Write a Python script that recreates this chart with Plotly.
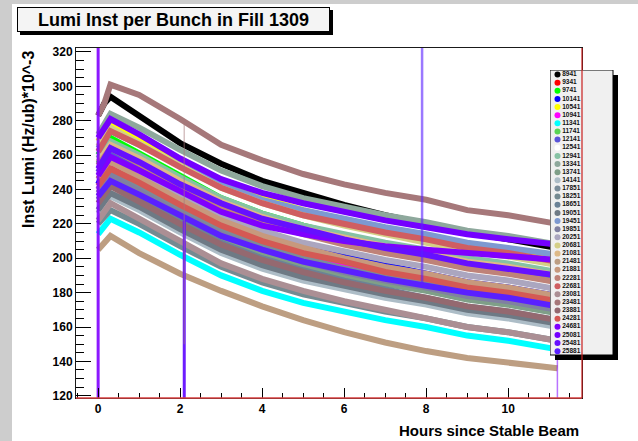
import plotly.graph_objects as go

# ---------------- data ----------------
hours = [0.0, 0.15, 0.3, 1, 2, 3, 4, 5, 6, 7, 8, 9, 10, 11.2]

bunches = ["8941", "9341", "9741", "10141", "10541", "10941", "11341", "11741",
           "12141", "12541", "12941", "13341", "13741", "14141", "17851", "18251",
           "18651", "19051", "19451", "19851", "20251", "20681", "21081", "21481",
           "21881", "22281", "22681", "23081", "23481", "23881", "24281", "24681",
           "25081", "25481", "25881"]

colors = ["#000000", "#ff0000", "#00ff00", "#0000ff", "#ffff00", "#ff00ff", "#00ffff", "#59d454",
          "#5954d9", "#ffffff", "#86c2a4", "#8ea89c", "#7f9f88", "#adbdc7", "#7a8c99", "#758a91",
          "#6b8296", "#6e7a85", "#7d99d1", "#8080a1", "#aba6bf", "#d4cf87", "#deba87", "#bd9e82",
          "#c7997d", "#bf8278", "#cf5e61", "#ab8f94", "#a6787a", "#946970", "#d45954", "#8000ff",
          "#7400ff", "#6610ff", "#5a20ff"]

lumi_8941 = [283, 290, 294, 283, 267, 255, 245, 238, 231, 225, 220, 215, 211, 206]
lumi_9341 = [246, 251, 255, 246, 233, 220, 211, 204, 198, 193, 188, 183, 180, 175]
lumi_9741 = [260, 265, 270, 261, 248, 235, 226, 219, 213, 208, 203, 198, 195, 190]
lumi_10141 = [243, 251, 258, 249, 236, 223, 214, 207, 201, 196, 191, 186, 183, 178]
lumi_10541 = [268, 274, 279, 270, 257, 244, 235, 228, 222, 217, 212, 207, 204, 199]
lumi_10941 = [240, 246, 252, 243, 230, 217, 208, 201, 195, 190, 185, 180, 177, 172]
lumi_11341 = [214, 219, 223, 215, 202, 190, 181, 174, 169, 164, 160, 155, 152, 147]
lumi_11741 = [255, 260, 265, 256, 243, 231, 222, 215, 209, 204, 200, 195, 192, 187]
lumi_12141 = [250, 256, 262, 254, 242, 231, 222, 216, 211, 206, 202, 197, 194, 190]
lumi_12541 = [232, 236, 240, 231, 218, 205, 196, 189, 183, 178, 173, 168, 165, 160]
lumi_12941 = [258, 263, 268, 260, 247, 235, 226, 219, 214, 209, 205, 200, 197, 192]
lumi_13341 = [272, 278, 284, 276, 263, 251, 242, 235, 230, 225, 221, 216, 213, 208]
lumi_13741 = [236, 241, 246, 237, 224, 212, 203, 196, 190, 185, 181, 176, 173, 168]
lumi_14141 = [226, 231, 236, 228, 215, 203, 194, 187, 182, 177, 173, 168, 165, 160]
lumi_17851 = [240, 245, 250, 241, 228, 216, 207, 200, 194, 189, 185, 180, 177, 172]
lumi_18251 = [220, 224, 228, 220, 207, 195, 186, 179, 174, 169, 165, 160, 157, 152]
lumi_18651 = [234, 239, 244, 235, 222, 209, 200, 193, 187, 182, 177, 172, 169, 164]
lumi_19051 = [228, 233, 238, 230, 217, 205, 196, 189, 184, 179, 175, 170, 167, 162]
lumi_19451 = [264, 269, 274, 266, 254, 243, 234, 228, 223, 218, 214, 209, 206, 202]
lumi_19851 = [238, 243, 248, 239, 226, 214, 205, 198, 192, 187, 183, 178, 175, 170]
lumi_20251 = [248, 253, 258, 250, 237, 225, 216, 209, 204, 199, 195, 190, 187, 182]
lumi_20681 = [265, 270, 276, 267, 254, 241, 232, 225, 219, 214, 209, 204, 201, 196]
lumi_21081 = [256, 261, 266, 258, 245, 233, 224, 217, 212, 207, 203, 198, 195, 190]
lumi_21481 = [205, 209, 213, 203, 191, 181, 172, 164, 157, 151, 146, 142, 139, 136]
lumi_21881 = [246, 251, 256, 247, 234, 222, 213, 206, 200, 195, 191, 186, 183, 178]
lumi_22281 = [254, 259, 264, 255, 242, 230, 221, 214, 208, 203, 199, 194, 191, 186]
lumi_22681 = [262, 268, 274, 266, 253, 241, 232, 225, 220, 215, 211, 206, 203, 198]
lumi_23081 = [222, 227, 232, 223, 210, 197, 188, 181, 175, 170, 165, 160, 157, 152]
lumi_23481 = [283, 290, 301, 295, 281, 266, 257, 249, 243, 238, 234, 228, 225, 220]
lumi_23881 = [232, 237, 242, 233, 220, 208, 199, 192, 186, 181, 177, 172, 169, 164]
lumi_24281 = [242, 247, 252, 244, 231, 219, 210, 203, 198, 192, 188, 183, 180, 175]
lumi_24681 = [248, 254, 259, 251, 239, 227, 219, 214, 210, 207, 205, 203, 201, 199]
lumi_25081 = [270, 276, 281, 272, 258, 246, 238, 232, 227, 222, 218, 214, 211, 208]
lumi_25481 = [252, 258, 264, 256, 243, 232, 223, 217, 211, 206, 202, 197, 194, 190]
lumi_25881 = [236, 241, 245, 237, 225, 213, 205, 198, 193, 188, 184, 180, 177, 172]

# readings that jump off-scale (vertical streaks)
spike_series = ["24681", "25481", "23481", "25881", "24681"]
spike_hours = [0.0, 2.1, 2.1, 7.9, 11.2]
spike_low = [100, 100, 150, 184, 100]
spike_high = [340, 222, 281, 340, 158]

title_text = "Lumi Inst per Bunch in Fill 1309"
x_title = "Hours since Stable Beam"
y_title = "Inst Lumi (Hz/ub)*10^-3"

series_values = [lumi_8941, lumi_9341, lumi_9741, lumi_10141, lumi_10541, lumi_10941,
                 lumi_11341, lumi_11741, lumi_12141, lumi_12541, lumi_12941, lumi_13341,
                 lumi_13741, lumi_14141, lumi_17851, lumi_18251, lumi_18651, lumi_19051,
                 lumi_19451, lumi_19851, lumi_20251, lumi_20681, lumi_21081, lumi_21481,
                 lumi_21881, lumi_22281, lumi_22681, lumi_23081, lumi_23481, lumi_23881,
                 lumi_24281, lumi_24681, lumi_25081, lumi_25481, lumi_25881]

# ---------------- layout geometry ----------------
W, H = 638, 441
ML, MR, MT, MB = 76, 20, 48, 43
PW = W - ML - MR
PH = H - MT - MB


def px(xpix):
    return (xpix - ML) / PW


def py(ypix):
    return (H - MB - ypix) / PH


xdom_end = px(582)
FONT = "Liberation Sans, Arial, Helvetica, sans-serif"
color_of = dict(zip(bunches, colors))

fig = go.Figure()

for name, col, vals in zip(bunches, colors, series_values):
    fig.add_trace(go.Scatter(x=hours, y=vals, mode="lines", name=name,
                             line=dict(color=col, width=6),
                             showlegend=False, hoverinfo="skip"))

spike_style = [dict(width=3, opacity=0.9), dict(width=3, opacity=0.95),
               dict(width=1.5, opacity=0.45), dict(width=2.5, opacity=0.6),
               dict(width=1.5, opacity=0.55)]
for s, h, lo, hi, st in zip(spike_series, spike_hours, spike_low, spike_high, spike_style):
    fig.add_trace(go.Scatter(x=[h, h], y=[lo, hi], mode="lines",
                             line=dict(color=color_of[s], width=st["width"]),
                             opacity=st["opacity"], showlegend=False, hoverinfo="skip"))

# hand-made ROOT-style legend, drawn on a pixel-scaled helper axis
leg_top, leg_step = 74.5, 8.14
legend_rows = [leg_top + i * leg_step for i in range(len(bunches))]
fig.add_trace(go.Scatter(x=[557.5] * len(bunches), y=legend_rows, xaxis="x2", yaxis="y2",
                         mode="markers+text", text=bunches, textposition="middle right",
                         marker=dict(color=colors, size=6, line=dict(width=0)),
                         textfont=dict(family=FONT, size=6.5, color="#111111", weight="bold"),
                         cliponaxis=False, showlegend=False, hoverinfo="skip"))

shapes = [
    # grey canvas border (left and top)
    dict(type="rect", xref="paper", yref="paper", x0=px(0), x1=px(12), y0=py(441), y1=py(0),
         fillcolor="#cdcdcd", line=dict(width=0), layer="below"),
    dict(type="rect", xref="paper", yref="paper", x0=px(0), x1=px(638), y0=py(4), y1=py(0),
         fillcolor="#cdcdcd", line=dict(width=0), layer="below"),
    # title shadow
    dict(type="rect", xref="paper", yref="paper", x0=px(20), x1=px(333), y0=py(35), y1=py(10),
         fillcolor="#000000", line=dict(width=0), layer="below"),
    # red streak along bottom and right frame
    dict(type="line", xref="paper", yref="paper", x0=0, x1=xdom_end, y0=0, y1=0,
         line=dict(color="#d84040", width=1.5), layer="above"),
    dict(type="line", xref="paper", yref="paper", x0=xdom_end, x1=xdom_end, y0=0, y1=1,
         line=dict(color="#c81e1e", width=1.2), layer="above"),
    # legend shadow and box (on helper axes, pixel units)
    dict(type="rect", xref="x2", yref="y2", x0=555, x1=618, y0=75, y1=360,
         fillcolor="#000000", line=dict(width=0), layer="below"),
    dict(type="rect", xref="x2", yref="y2", x0=550, x1=613, y0=70, y1=355,
         fillcolor="#f0f0f0", line=dict(color="#000000", width=1), layer="below"),
]

annotations = [
    dict(text=title_text, xref="paper", yref="paper", x=px(173.5), y=py(19.5),
         xanchor="center", yanchor="middle", showarrow=False, width=311, height=23,
         bgcolor="#f4f4f4", bordercolor="#000000", borderwidth=1, borderpad=0,
         font=dict(family=FONT, size=18, color="#000000", weight="bold")),
    dict(text=y_title, xref="paper", yref="paper", x=px(28.5), y=py(49),
         xanchor="center", yanchor="top", textangle=-90, showarrow=False,
         font=dict(family=FONT, size=16, color="#000000", weight="bold")),
    dict(text=x_title, xref="paper", yref="paper", x=px(581), y=py(430),
         xanchor="right", yanchor="middle", showarrow=False,
         font=dict(family=FONT, size=15, color="#000000", weight="bold")),
]

tickfont = dict(family=FONT, size=12, color="#000000", weight="bold")

fig.update_layout(
    width=W, height=H,
    margin=dict(l=ML, r=MR, t=MT, b=MB, pad=0),
    paper_bgcolor="#ffffff", plot_bgcolor="#ffffff",
    showlegend=False,
    shapes=shapes, annotations=annotations,
    xaxis=dict(domain=[0, xdom_end], range=[-0.54, 11.8], showgrid=False, zeroline=False,
               showline=True, linecolor="#1a1a1a", linewidth=1, mirror=True,
               ticks="inside", ticklen=10, tickwidth=1, tickcolor="#000000",
               tick0=0, dtick=2, tickfont=tickfont,
               minor=dict(ticks="inside", ticklen=5, tickwidth=1, tickcolor="#000000",
                          tick0=0, dtick=0.5, showgrid=False)),
    yaxis=dict(domain=[0, 1], range=[118.7, 322.3], showgrid=False, zeroline=False,
               showline=True, linecolor="#1a1a1a", linewidth=1, mirror=True,
               ticks="inside", ticklen=15, tickwidth=1, tickcolor="#000000",
               tick0=120, dtick=20, tickfont=tickfont,
               minor=dict(ticks="inside", ticklen=7.5, tickwidth=1, tickcolor="#000000",
                          tick0=120, dtick=5, showgrid=False)),
    xaxis2=dict(domain=[px(550), 1.0], range=[550, 618], visible=False, fixedrange=True,
                anchor="y2"),
    yaxis2=dict(domain=[py(360), py(70)], range=[360, 70], visible=False, fixedrange=True,
                anchor="x2"),
)

fig.write_html("out.html")
